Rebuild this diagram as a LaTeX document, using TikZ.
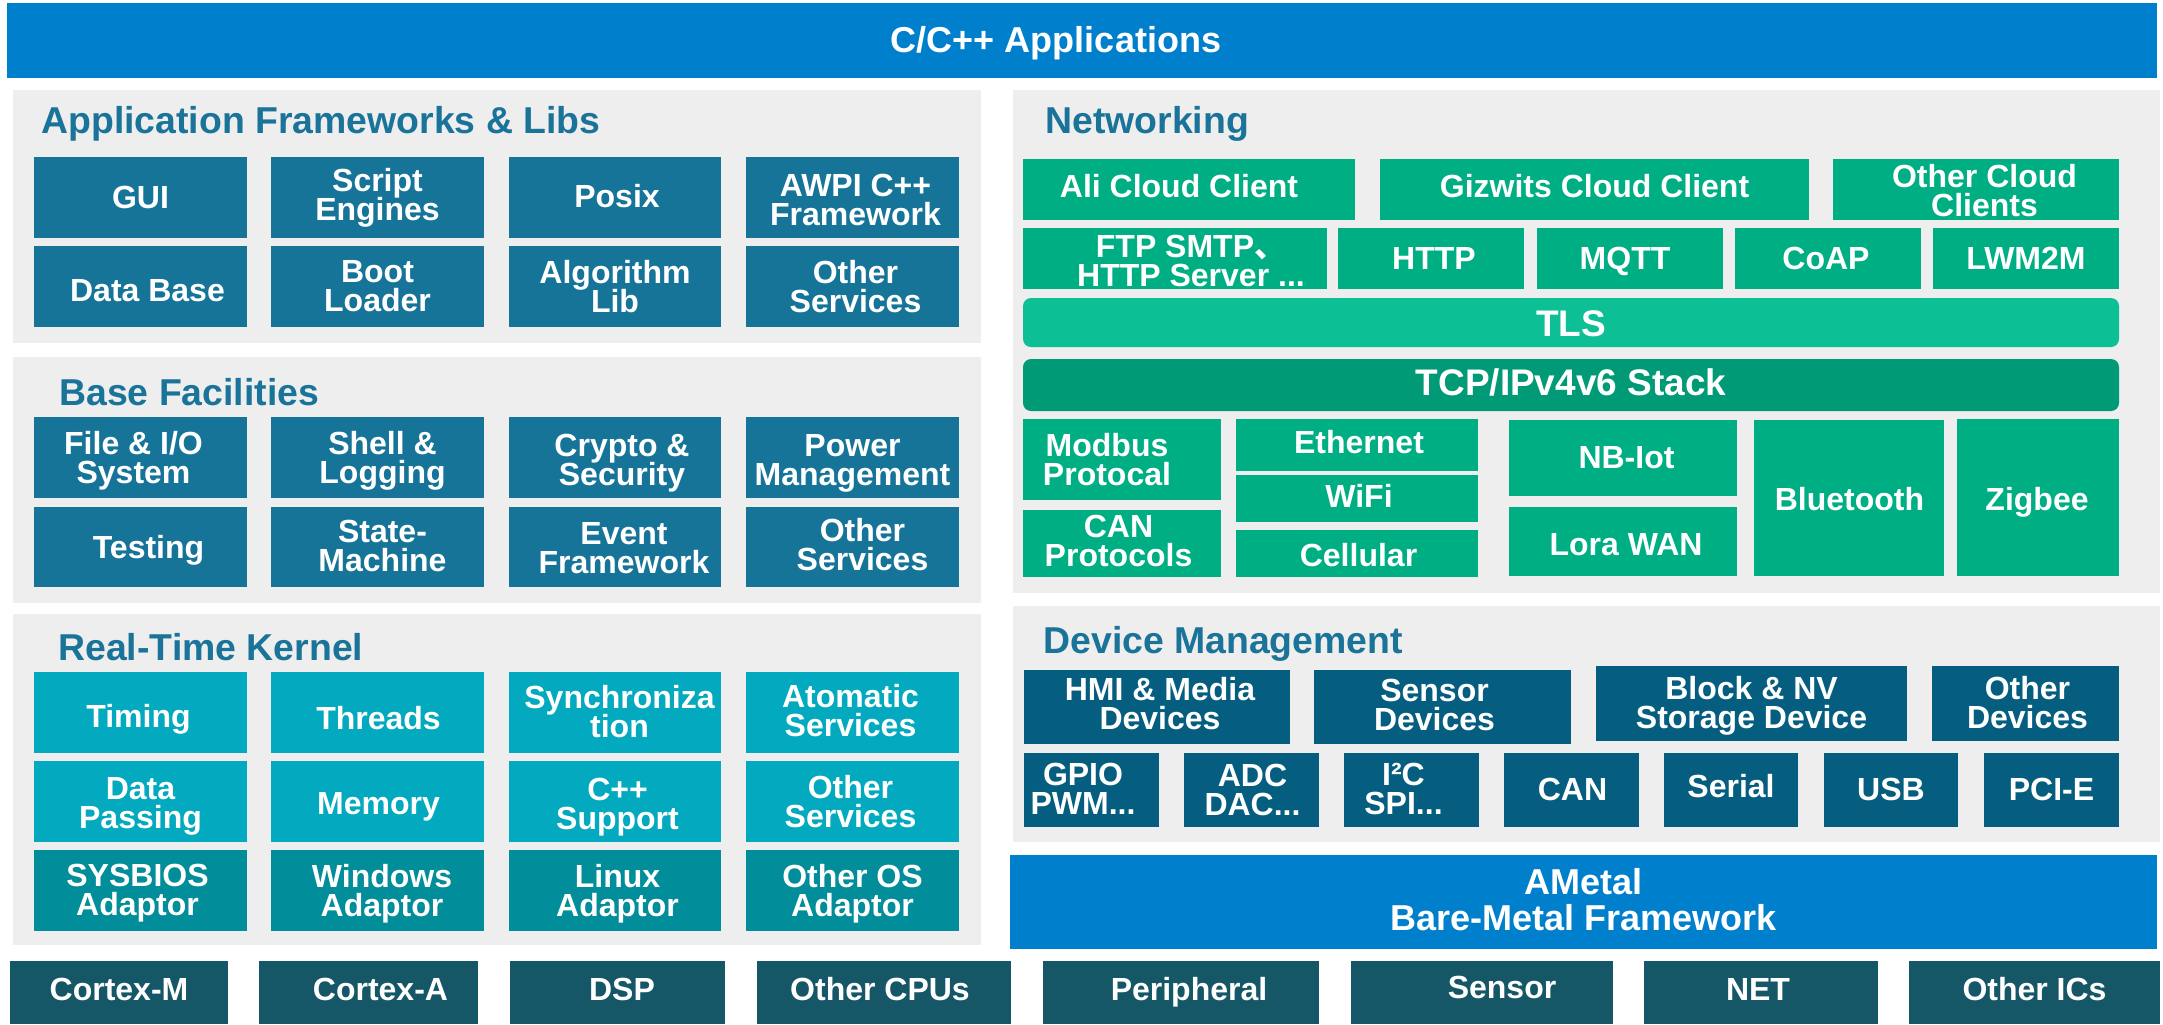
\documentclass[tikz,border=0pt]{standalone}
\usepackage{fontspec}
\setmainfont{Liberation Sans}
\newfontfamily\cjkfont{Noto Sans CJK SC}
\usetikzlibrary{fit}
\definecolor{topblue}{HTML}{007FCC}
\definecolor{panelgray}{HTML}{EEEEEE}
\definecolor{fwblue}{HTML}{177499}
\definecolor{titleblue}{HTML}{1A7399}
\definecolor{rtkcyan}{HTML}{02A9BF}
\definecolor{rtkteal}{HTML}{018D99}
\definecolor{netgreen}{HTML}{00AE84}
\definecolor{tlsgreen}{HTML}{0DBF95}
\definecolor{tcpgreen}{HTML}{009A76}
\definecolor{devblue}{HTML}{055E7F}
\definecolor{hwteal}{HTML}{165767}
\tikzset{
  boxbase/.style={inner sep=0pt, outer sep=0pt, draw=none},
  panel/.style={boxbase, fill=panelgray},
  fwbox/.style={boxbase, fill=fwblue},
  rtkbox/.style={boxbase, fill=rtkcyan},
  adbox/.style={boxbase, fill=rtkteal},
  netbox/.style={boxbase, fill=netgreen},
  tlsbox/.style={boxbase, fill=tlsgreen, rounded corners=4pt},
  tcpbox/.style={boxbase, fill=tcpgreen, rounded corners=4pt},
  devbox/.style={boxbase, fill=devblue},
  hwbox/.style={boxbase, fill=hwteal},
  barbox/.style={boxbase, fill=topblue},
  txt/.style={text=white, font=\bfseries\fontsize{16}{14.5}\selectfont, align=center, inner sep=0pt},
  txtone/.style={text=white, font=\bfseries\fontsize{16}{16}\selectfont, inner sep=0pt, text height=11.46pt, text depth=0pt},
  bigtxt/.style={text=white, font=\bfseries\fontsize{18.5}{18.5}\selectfont, inner sep=0pt, text height=13.25pt, text depth=0pt},
  hdrtxt/.style={text=white, font=\bfseries\fontsize{18}{18}\selectfont, inner sep=0pt, text height=12.9pt, text depth=0pt},
  amtxt/.style={text=white, font=\bfseries\fontsize{18}{18}\selectfont, align=center, inner sep=0pt},
  ttl/.style={text=titleblue, font=\bfseries\fontsize{18.7}{18.7}\selectfont, anchor=base west, inner sep=0pt},
}
\newcommand\blk[9]{%
  \node[#6, fit={(#2,#3)(#4,#5)}] (#1) {};
  \node[txt] (#1-t) at ([shift={(#7,#8)}]#1.center) {#9};}
\newcommand\blkone[9]{%
  \node[#6, fit={(#2,#3)(#4,#5)}] (#1) {};
  \node[txtone] (#1-t) at ([shift={(#7,#8)}]#1.center) {#9};}
\begin{document}
\lineskiplimit=-20pt
\begin{tikzpicture}[x=0.5pt,y=-0.5pt]
\useasboundingbox (0,0) rectangle (2163,1024);
\fill[white] (0,0) rectangle (2163,1024);

% top bar
\node[barbox, fit={(7,3)(2157,78)}] (apps) {};
\node[hdrtxt] (apps-t) at ([shift={(-26,-1)}]apps.center) {C/C++ Applications};

% panels
\node[panel, fit={(13,90)(981,343)}] (pfw) {};
\node[panel, fit={(13,357)(981,603)}] (pbase) {};
\node[panel, fit={(13,614)(981,945)}] (prtk) {};
\node[panel, fit={(1013,90)(2160,593)}] (pnet) {};
\node[panel, fit={(1013,606)(2160,842)}] (pdev) {};

\node[ttl] (pfw-t) at (41,133) {Application Frameworks \& Libs};
\node[ttl] (pbase-t) at (59,405.5) {Base Facilities};
\node[ttl] (prtk-t) at (58,660) {Real-Time Kernel};
\node[ttl] (pnet-t) at (1045,133) {Networking};
\node[ttl] (pdev-t) at (1043,653) {Device Management};

% Application Frameworks & Libs
\blkone{gui}{34}{157}{247}{238}{fwbox}{0}{0}{GUI}
\blk{script}{271}{157}{484}{238}{fwbox}{0}{0}{Script\\Engines}
\blkone{posix}{509}{157}{721}{238}{fwbox}{2}{-1}{Posix}
\blk{awpi}{746}{157}{959}{238}{fwbox}{3}{2}{AWPI C++\\Framework}
\blkone{db}{34}{246}{247}{327}{fwbox}{7}{4}{Data Base}
\blk{boot}{271}{246}{484}{327}{fwbox}{0}{0}{Boot\\Loader}
\blk{algo}{509}{246}{721}{327}{fwbox}{0}{0}{Algorithm\\Lib}
\blk{fwother}{746}{246}{959}{327}{fwbox}{3}{0}{Other\\Services}

% Base Facilities
\blk{fileio}{34}{417}{247}{498}{fwbox}{-7}{3}{File \& I/O\\System}
\blk{shell}{271}{417}{484}{498}{fwbox}{5}{3}{Shell \&\\Logging}
\blk{crypto}{509}{417}{721}{498}{fwbox}{7}{6}{Crypto \&\\Security}
\blk{power}{746}{417}{959}{498}{fwbox}{0}{6}{Power\\Management}
\blkone{testing}{34}{507}{247}{587}{fwbox}{8}{0}{Testing}
\blk{sm}{271}{507}{484}{587}{fwbox}{5}{-1.5}{State-\\Machine}
\blk{event}{509}{507}{721}{587}{fwbox}{9}{1.5}{Event\\Framework}
\blk{bfother}{746}{507}{959}{587}{fwbox}{10}{-2}{Other\\Services}

% Real-Time Kernel
\blkone{timing}{34}{672}{247}{753}{rtkbox}{-2}{3.5}{Timing}
\blkone{threads}{271}{672}{484}{753}{rtkbox}{1}{5.5}{Threads}
\blk{sync}{509}{672}{721}{753}{rtkbox}{4.5}{-1}{Synchroniza\\tion}
\blk{atom}{746}{672}{959}{753}{rtkbox}{-2}{-1.5}{Atomatic\\Services}
\blk{datap}{34}{761}{247}{842}{rtkbox}{0}{5}{Data\\Passing}
\blkone{memory}{271}{761}{484}{842}{rtkbox}{1}{1.5}{Memory}
\blk{cpp}{509}{761}{721}{842}{rtkbox}{2.5}{5.5}{C++\\Support}
\blk{rtkother}{746}{761}{959}{842}{rtkbox}{-2}{0}{Other\\Services}
\blk{sysbios}{34}{850}{247}{931}{adbox}{-3}{2.5}{SYSBIOS\\Adaptor}
\blk{windows}{271}{850}{484}{931}{adbox}{4.5}{3}{Windows\\Adaptor}
\blk{linux}{509}{850}{721}{931}{adbox}{2.5}{3}{Linux\\Adaptor}
\blk{otheros}{746}{850}{959}{931}{adbox}{0}{3}{Other OS\\Adaptor}

% Networking
\blkone{ali}{1023}{159}{1355}{220}{netbox}{-10}{-3}{Ali Cloud Client}
\blkone{giz}{1380}{159}{1809}{220}{netbox}{0}{-3}{Gizwits Cloud Client}
\blk{ocloud}{1833}{159}{2119}{220}{netbox}{8.5}{1}{Other Cloud\\Clients}
\blk{ftp}{1023}{228}{1327}{289}{netbox}{16}{2}{FTP SMTP{\cjkfont 、}\\HTTP Server ...}
\blkone{http}{1338}{228}{1524}{289}{netbox}{3}{0}{HTTP}
\blkone{mqtt}{1537}{228}{1723}{289}{netbox}{-5}{0}{MQTT}
\blkone{coap}{1735}{228}{1921}{289}{netbox}{-2}{0}{CoAP}
\blkone{lwm}{1933}{228}{2119}{289}{netbox}{0}{0}{LWM2M}
\node[tlsbox, fit={(1023,298)(2119,347)}] (tls) {};
\node[bigtxt] (tls-t) at ([shift={(0,1)}]tls.center) {TLS};
\node[tcpbox, fit={(1023,359)(2119,411)}] (tcp) {};
\node[bigtxt] (tcp-t) at ([shift={(0,-2.5)}]tcp.center) {TCP/IPv4v6 Stack};
\blk{modbus}{1023}{419}{1221}{500}{netbox}{-15}{0}{Modbus\\Protocal}
\blk{canp}{1023}{510}{1221}{577}{netbox}{-3.5}{-3}{CAN\\Protocols}
\blkone{eth}{1236}{419}{1478}{471}{netbox}{2}{-3}{Ethernet}
\blkone{wifi}{1236}{475}{1478}{522}{netbox}{2}{-2.5}{WiFi}
\blkone{cell}{1236}{530}{1478}{577}{netbox}{1.5}{1.5}{Cellular}
\blkone{nb}{1509}{420}{1737}{496}{netbox}{3.5}{-1}{NB-Iot}
\blkone{lora}{1509}{507}{1737}{576}{netbox}{3}{3}{Lora WAN}
\blkone{bt}{1754}{420}{1944}{576}{netbox}{0.5}{1.5}{Bluetooth}
\blkone{zig}{1957}{419}{2119}{576}{netbox}{-1}{1.5}{Zigbee}

% Device Management
\blk{hmi}{1024}{670}{1290}{744}{devbox}{3}{-3}{HMI \& Media\\Devices}
\blk{sensdev}{1314}{670}{1571}{744}{devbox}{-8}{-2.5}{Sensor\\Devices}
\blk{block}{1596}{666}{1907}{741}{devbox}{0}{2.5}{Block \& NV\\Storage Device}
\blk{odev}{1932}{666}{2119}{741}{devbox}{2}{-1}{Other\\Devices}
\blk{gpio}{1024}{753}{1159}{827}{devbox}{-8.5}{-1}{GPIO\\PWM...}
\blk{adc}{1184}{753}{1319}{827}{devbox}{1}{0}{ADC\\DAC...}
\blk{i2c}{1344}{753}{1479}{827}{devbox}{-8}{-1}{I²C\\SPI...}
\blkone{can}{1504}{753}{1639}{827}{devbox}{1}{-1}{CAN}
\blkone{serial}{1664}{753}{1798}{827}{devbox}{0}{-3.5}{Serial}
\blkone{usb}{1824}{753}{1958}{827}{devbox}{0}{-1}{USB}
\blkone{pcie}{1984}{753}{2119}{827}{devbox}{0}{-1}{PCI-E}

% AMetal
\node[barbox, fit={(1010,855)(2157,949)}] (ametal) {};
\node[amtxt] (ametal-t) at ([shift={(0,-2.5)}]ametal.center) {AMetal\\Bare-Metal Framework};

% hardware row
\blkone{cm}{10}{961}{228}{1024}{hwbox}{0}{-3.5}{Cortex-M}
\blkone{ca}{259}{961}{478}{1024}{hwbox}{12}{-3.5}{Cortex-A}
\blkone{dsp}{510}{961}{725}{1024}{hwbox}{4.5}{-3.5}{DSP}
\blkone{ocpu}{757}{961}{1011}{1024}{hwbox}{-4}{-3.5}{Other CPUs}
\blkone{periph}{1043}{961}{1319}{1024}{hwbox}{8}{-3.5}{Peripheral}
\blkone{sensor}{1351}{961}{1613}{1024}{hwbox}{20}{-5}{Sensor}
\blkone{net}{1644}{961}{1878}{1024}{hwbox}{-3}{-3.5}{NET}
\blkone{oics}{1909}{961}{2160}{1024}{hwbox}{0}{-3.5}{Other ICs}
\end{tikzpicture}
\end{document}
